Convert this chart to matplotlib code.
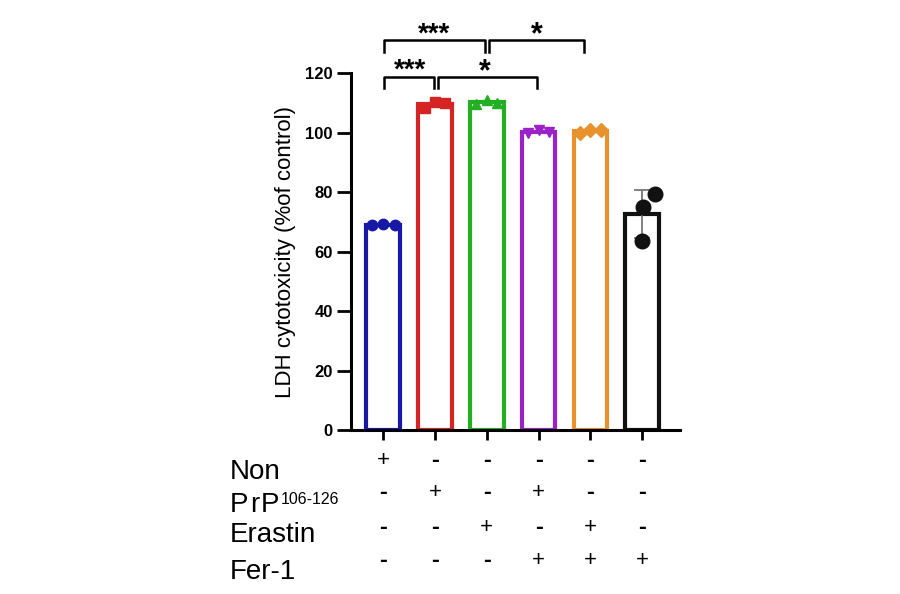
import numpy as np
import matplotlib
matplotlib.use("Agg")
import matplotlib.pyplot as plt

plt.rcParams['font.family'] = ['Liberation Sans', 'DejaVu Sans']

# data
groups = ["Non", "PrP", "Erastin", "PrP+Fer-1", "Erastin+Fer-1", "Fer-1"]
points = [
    [68.8, 69.2, 69.0],
    [108.4, 110.2, 110.0],
    [109.5, 111.0, 110.0],
    [100.0, 100.8, 100.2],
    [100.0, 101.0, 101.0],
    [79.3, 74.9, 63.5],
]
jitter = [
    [-0.22, 0.0, 0.22],
    [-0.2, 0.0, 0.2],
    [-0.2, 0.0, 0.2],
    [-0.2, 0.0, 0.2],
    [-0.2, 0.0, 0.2],
    [0.25, 0.02, 0.0],
]
colors = ["#1818a6", "#d42424", "#22b022", "#9b22c8", "#e8922e", "#111111"]
markers = ["o", "s", "^", "v", "D", "o"]

row_names = ["Non", "PrP", "Erastin", "Fer-1"]
signs = [
    ["+", "-", "-", "-", "-", "-"],
    ["-", "+", "-", "+", "-", "-"],
    ["-", "-", "+", "-", "+", "-"],
    ["-", "-", "-", "+", "+", "+"],
]

# brackets: (x1, x2, y, star text, star x)
brackets = [
    (0.02, 0.98, 118.7, "***", 0.52),
    (1.06, 2.96, 118.7, "*", 1.96),
    (0.02, 1.97, 131.0, "***", 0.98),
    (2.04, 3.87, 131.0, "*", 2.96),
]

fig = plt.figure(figsize=(9, 5.94), dpi=100)
ax = fig.add_axes([0.39, 0.276, 0.3656, 0.601])

x = np.arange(len(groups))
means = [np.mean(p) for p in points]
sds = [np.std(p, ddof=1) for p in points]

for i in range(len(groups)):
    ax.bar(x[i], means[i], width=0.65, facecolor="white", edgecolor=colors[i],
           linewidth=3, zorder=2)
    ms = 10.5 if i == 5 else 7.5
    ax.plot(x[i] + np.array(jitter[i]), points[i], linestyle="none",
            marker=markers[i], color=colors[i], markersize=ms, zorder=4)
    if i == 5:
        ax.errorbar(x[i], means[i], yerr=sds[i], color="#777777", capsize=5.5,
                    linewidth=1.3, capthick=1.3, zorder=3)

ax.set_xlim(-0.62, 5.73)
ax.set_ylim(0, 120)
ax.set_yticks(range(0, 121, 20))
ax.set_xticks(x)
ax.set_xticklabels([])
for lab in ax.get_yticklabels():
    lab.set_fontweight("bold")
ax.tick_params(axis="y", labelsize=12, width=2, length=10, pad=3)
ax.tick_params(axis="x", width=2, length=7)
ax.spines["top"].set_visible(False)
ax.spines["right"].set_visible(False)
ax.spines["left"].set_linewidth(2.2)
ax.spines["bottom"].set_linewidth(2.2)
ax.set_ylabel("LDH cytotoxicity (%of control)", fontsize=16, labelpad=7)

for x1, x2, y, star, sx in brackets:
    ax.plot([x1, x1, x2, x2], [y - 3.8, y, y, y - 3.8], color="black",
            linewidth=1.8, clip_on=False)
    if star == "*":
        ax.text(sx, y - 1.0, star, ha="center", va="baseline", fontsize=22,
                fontweight="bold", clip_on=False)
    else:
        ax.text(sx, y - 0.3, star, ha="center", va="baseline", fontsize=20,
                fontweight="bold", clip_on=False)

# treatment table under the axis
trans = ax.get_xaxis_transform()
row_y = [-0.084, -0.176, -0.272, -0.364]
for r, row in enumerate(signs):
    for i, s in enumerate(row):
        if s == "+":
            ax.text(x[i], row_y[r], s, transform=trans, ha="center",
                    va="center", fontsize=16)
        else:
            ax.text(x[i], row_y[r], s, transform=trans, ha="center",
                    va="center", fontsize=17, fontweight="bold")

label_y = [472, 505, 535, 572]
for name, yp in zip(row_names, label_y):
    if name == "PrP":
        t = fig.text(230 / 900, 1 - yp / 594, "P", ha="left", va="center",
                     fontsize=20)
        t = ax.annotate("r", xy=(1, 0.5), xycoords=t, xytext=(1, 0),
                        textcoords="offset points", ha="left", va="center",
                        fontsize=20)
        t = ax.annotate("P", xy=(1, 0.5), xycoords=t, xytext=(1.5, 0),
                        textcoords="offset points", ha="left", va="center",
                        fontsize=20)
        ax.annotate("106-126", xy=(1.0, 0.7), xycoords=t, xytext=(1, 0),
                    textcoords="offset points", ha="left", va="center",
                    fontsize=11.5)
    else:
        fig.text(230 / 900, 1 - yp / 594, name, ha="left", va="center",
                 fontsize=20)

fig.savefig("out.png", dpi=100)
plt.close()
